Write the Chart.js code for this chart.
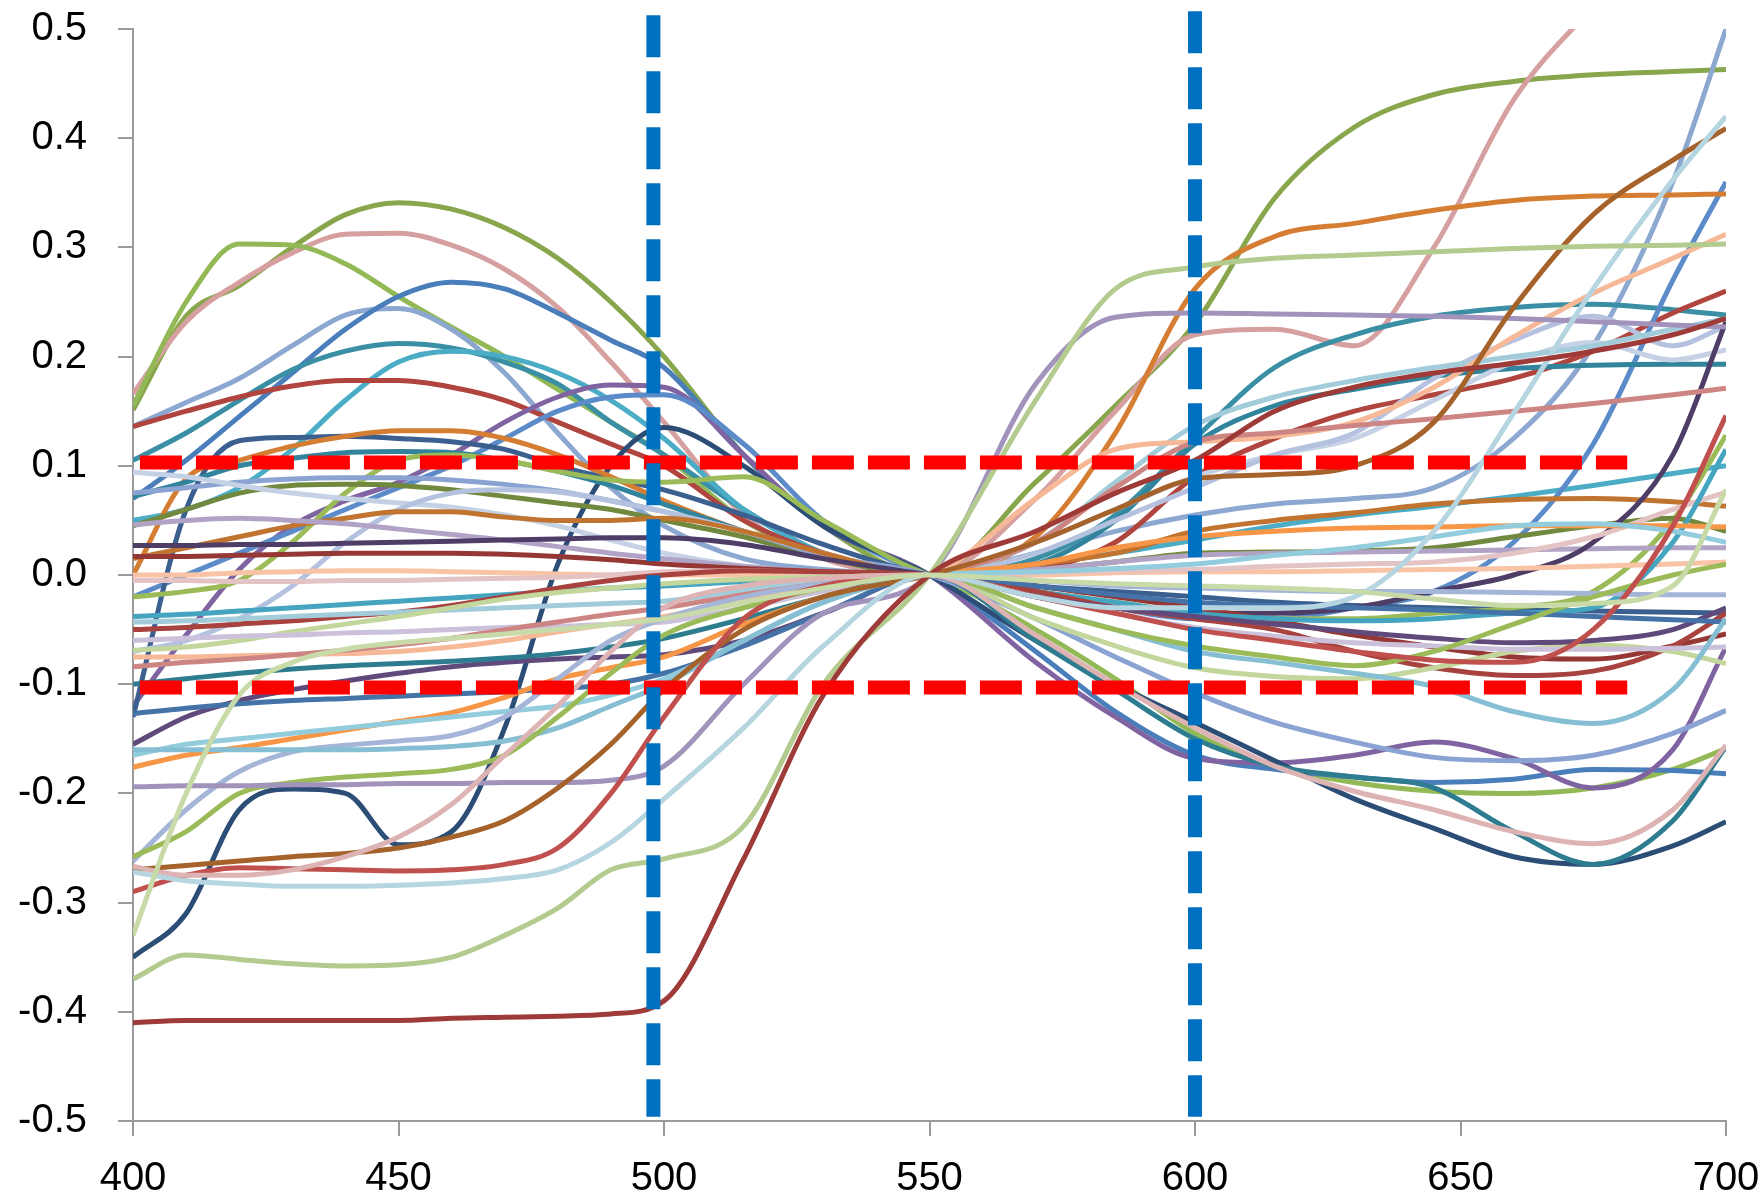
<!DOCTYPE html>
<html>
<head>
<meta charset="UTF-8">
<title>Normalized spectra around 550 nm</title>
<script src="https://cdn.jsdelivr.net/npm/chart.js@4.4.0/dist/chart.umd.min.js"></script>
<style>
  html, body { margin: 0; padding: 0; background: #fff; }
  #wrap { width: 1764px; height: 1198px; }
</style>
</head>
<body>
<div id="wrap"><canvas id="chart"></canvas></div>
<script>
const wavelengths = [400, 410, 420, 430, 440, 450, 460, 470, 480, 490, 500, 515, 530, 550, 570, 585, 600, 615, 630, 645, 660, 675, 690, 700];

const xTicks = [400, 450, 500, 550, 600, 650, 700];
const yTicks = [-0.5, -0.4, -0.3, -0.2, -0.1, 0, 0.1, 0.2, 0.3, 0.4, 0.5];

// marker lines
const cutX = [498, 600];
const cutTop = [0.5126, 0.5162];
const cutBottom = -0.496;
const bandY = [0.103, -0.103];
const bandFrom = 401.3;
const bandTo = 681.4;

// the curves
const s01 = [0.151, 0.237, 0.265, 0.300, 0.330, 0.341, 0.335, 0.318, 0.29, 0.25, 0.2, 0.11, 0.045, 0, 0.085, 0.155, 0.23, 0.345, 0.41, 0.44, 0.452, 0.458, 0.461, 0.463];
const s02 = [0.166, 0.232, 0.268, 0.295, 0.312, 0.313, 0.302, 0.28, 0.245, 0.195, 0.14, 0.055, 0.015, 0, 0.07, 0.15, 0.22, 0.225, 0.21, 0.3, 0.435, 0.52, 0.59, 0.63];
const s03 = [0.155, 0.25, 0.303, 0.302, 0.285, 0.255, 0.227, 0.2, 0.17, 0.14, 0.11, 0.05, 0.018, 0, -0.05, -0.095, -0.145, -0.175, -0.19, -0.198, -0.2, -0.195, -0.178, -0.159];
const s04 = [0.136, 0.158, 0.18, 0.21, 0.238, 0.244, 0.225, 0.185, 0.13, 0.08, 0.045, 0.015, 0.005, 0, 0.02, 0.04, 0.055, 0.065, 0.07, 0.08, 0.125, 0.21, 0.36, 0.5];
const s05 = [0.07, 0.105, 0.145, 0.185, 0.225, 0.255, 0.268, 0.262, 0.24, 0.215, 0.19, 0.11, 0.045, 0, -0.07, -0.125, -0.165, -0.178, -0.185, -0.19, -0.187, -0.178, -0.179, -0.182];
const s06 = [0.105, 0.13, 0.16, 0.188, 0.205, 0.212, 0.208, 0.195, 0.175, 0.14, 0.11, 0.06, 0.02, 0, 0.015, 0.055, 0.125, 0.19, 0.22, 0.237, 0.245, 0.248, 0.243, 0.238];
const s07 = [0.05, 0.06, 0.08, 0.115, 0.16, 0.195, 0.205, 0.2, 0.185, 0.16, 0.125, 0.06, 0.02, 0, 0.01, 0.02, 0.032, 0.045, 0.055, 0.063, 0.072, 0.082, 0.093, 0.1];
const s08 = [0.136, 0.15, 0.163, 0.173, 0.178, 0.178, 0.172, 0.16, 0.14, 0.12, 0.1, 0.05, 0.02, 0, 0.005, 0.03, 0.09, 0.125, 0.15, 0.165, 0.18, 0.205, 0.24, 0.26];
const s09 = [-0.12, -0.055, 0.005, 0.045, 0.068, 0.085, 0.11, 0.14, 0.163, 0.174, 0.172, 0.11, 0.045, 0, -0.08, -0.13, -0.168, -0.172, -0.165, -0.153, -0.168, -0.195, -0.16, -0.066];
const s10 = [-0.02, 0.0, 0.02, 0.04, 0.06, 0.08, 0.1, 0.125, 0.15, 0.163, 0.165, 0.12, 0.05, 0, -0.015, -0.03, -0.04, -0.04, -0.03, -0.015, 0.03, 0.12, 0.27, 0.36];
const s11 = [-0.35, -0.31, -0.215, -0.196, -0.2, -0.247, -0.235, -0.14, 0.01, 0.1, 0.135, 0.1, 0.045, 0, -0.06, -0.1, -0.135, -0.17, -0.205, -0.232, -0.258, -0.265, -0.248, -0.226];
const s12 = [-0.13, 0.06, 0.123, 0.126, 0.127, 0.125, 0.122, 0.115, 0.1, 0.088, 0.078, 0.055, 0.028, 0, -0.01, -0.015, -0.02, -0.025, -0.028, -0.03, -0.032, -0.033, -0.034, -0.035];
const s13 = [0.0, 0.088, 0.105, 0.118, 0.127, 0.132, 0.132, 0.125, 0.11, 0.09, 0.068, 0.04, 0.018, 0, 0.035, 0.13, 0.262, 0.31, 0.322, 0.334, 0.343, 0.347, 0.348, 0.349];
const s14 = [0.072, 0.085, 0.1, 0.107, 0.112, 0.113, 0.112, 0.105, 0.095, 0.082, 0.065, 0.04, 0.018, 0, 0.01, 0.05, 0.12, 0.155, 0.17, 0.182, 0.189, 0.192, 0.193, 0.193];
const s15 = [-0.02, -0.015, -0.005, 0.03, 0.075, 0.105, 0.11, 0.105, 0.095, 0.087, 0.085, 0.09, 0.05, 0, -0.015, -0.025, -0.035, -0.04, -0.04, -0.035, -0.03, -0.015, 0.05, 0.128];
const s16 = [0.045, 0.06, 0.075, 0.082, 0.083, 0.082, 0.078, 0.072, 0.066, 0.06, 0.05, 0.035, 0.016, 0, 0.005, 0.012, 0.02, 0.021, 0.022, 0.025, 0.035, 0.045, 0.052, 0.04];
const s17 = [0.075, 0.08, 0.085, 0.088, 0.089, 0.089, 0.087, 0.083, 0.077, 0.068, 0.058, 0.04, 0.018, 0, -0.04, -0.075, -0.108, -0.135, -0.153, -0.167, -0.17, -0.165, -0.145, -0.124];
const s18 = [0.094, 0.09, 0.082, 0.075, 0.07, 0.066, 0.062, 0.055, 0.045, 0.032, 0.02, 0.008, 0.002, 0, 0.03, 0.06, 0.09, 0.11, 0.125, 0.16, 0.195, 0.213, 0.197, 0.206];
const s19 = [-0.07, -0.06, -0.04, -0.01, 0.03, 0.06, 0.075, 0.078, 0.076, 0.068, 0.058, 0.04, 0.02, 0, 0.02, 0.05, 0.08, 0.11, 0.13, 0.18, 0.215, 0.237, 0.21, 0.228];
const s20 = [0.015, 0.025, 0.035, 0.045, 0.052, 0.058, 0.058, 0.053, 0.05, 0.05, 0.052, 0.04, 0.02, 0, 0.01, 0.02, 0.04, 0.05, 0.057, 0.065, 0.069, 0.07, 0.067, 0.063];
const s21 = [0.046, 0.05, 0.052, 0.05, 0.047, 0.042, 0.037, 0.032, 0.026, 0.02, 0.015, 0.008, 0.003, 0, 0.005, 0.012, 0.018, 0.02, 0.021, 0.022, 0.023, 0.024, 0.025, 0.025];
const s22 = [0.027, 0.027, 0.028, 0.028, 0.029, 0.03, 0.031, 0.032, 0.033, 0.034, 0.034, 0.028, 0.015, 0, -0.015, -0.03, -0.035, -0.035, -0.03, -0.015, 0.0, 0.03, 0.11, 0.232];
const s23 = [0.017, 0.017, 0.018, 0.019, 0.02, 0.02, 0.02, 0.019, 0.017, 0.014, 0.01, 0.006, 0.003, 0, -0.01, -0.02, -0.03, -0.042, -0.055, -0.066, -0.075, -0.077, -0.065, -0.054];
const s24 = [0.0, 0.0, 0.002, 0.003, 0.004, 0.004, 0.003, 0.002, 0.001, 0.0, 0.0, 0.0, 0.0, 0, 0.0, 0.002, 0.003, 0.003, 0.004, 0.005, 0.006, 0.008, 0.01, 0.012];
const s25 = [-0.005, -0.005, -0.006, -0.006, -0.005, -0.005, -0.004, -0.003, -0.002, 0.0, 0.003, 0.004, 0.002, 0, 0.002, 0.004, 0.005, 0.008, 0.01, 0.012, 0.02, 0.035, 0.06, 0.076];
const s26 = [-0.038, -0.036, -0.033, -0.03, -0.027, -0.024, -0.021, -0.018, -0.015, -0.012, -0.01, -0.006, -0.003, 0, -0.015, -0.025, -0.035, -0.04, -0.042, -0.04, -0.035, -0.03, 0.03, 0.115];
const s27 = [-0.05, -0.048, -0.045, -0.042, -0.038, -0.034, -0.028, -0.02, -0.012, -0.005, 0.0, 0.004, 0.003, 0, -0.015, -0.03, -0.04, -0.05, -0.07, -0.085, -0.092, -0.088, -0.065, -0.035];
const s28 = [-0.043, -0.042, -0.04, -0.038, -0.036, -0.034, -0.032, -0.03, -0.028, -0.026, -0.024, -0.014, -0.006, 0, 0.03, 0.085, 0.137, 0.163, 0.178, 0.19, 0.2, 0.21, 0.225, 0.235];
const s29 = [-0.069, -0.066, -0.06, -0.052, -0.045, -0.038, -0.03, -0.022, -0.016, -0.012, -0.008, -0.004, -0.002, 0, -0.04, -0.065, -0.085, -0.093, -0.095, -0.085, -0.07, -0.064, -0.07, -0.081];
const s30 = [-0.075, -0.075, -0.074, -0.073, -0.072, -0.07, -0.066, -0.06, -0.052, -0.045, -0.038, -0.022, -0.01, 0, 0.07, 0.115, 0.122, 0.127, 0.14, 0.172, 0.218, 0.258, 0.29, 0.312];
const s31 = [-0.06, -0.058, -0.056, -0.055, -0.053, -0.052, -0.05, -0.048, -0.047, -0.045, -0.043, -0.03, -0.015, 0, -0.02, -0.035, -0.048, -0.056, -0.062, -0.065, -0.068, -0.068, -0.067, -0.066];
const s32 = [-0.084, -0.08, -0.077, -0.073, -0.069, -0.064, -0.058, -0.05, -0.043, -0.036, -0.03, -0.018, -0.008, 0, 0.03, 0.08, 0.122, 0.13, 0.137, 0.143, 0.15, 0.157, 0.165, 0.171];
const s33 = [-0.155, -0.13, -0.115, -0.105, -0.097, -0.09, -0.084, -0.08, -0.077, -0.075, -0.073, -0.06, -0.035, 0, -0.02, -0.03, -0.038, -0.045, -0.052, -0.058, -0.062, -0.06, -0.05, -0.03];
const s34 = [-0.127, -0.122, -0.118, -0.115, -0.113, -0.111, -0.109, -0.107, -0.104, -0.1, -0.09, -0.065, -0.035, 0, -0.01, -0.018, -0.025, -0.028, -0.03, -0.032, -0.035, -0.038, -0.041, -0.043];
const s35 = [-0.1, -0.095, -0.09, -0.086, -0.083, -0.081, -0.079, -0.076, -0.072, -0.066, -0.058, -0.04, -0.02, 0, -0.06, -0.105, -0.15, -0.175, -0.185, -0.195, -0.235, -0.265, -0.225, -0.157];
const s36 = [-0.176, -0.165, -0.158, -0.15, -0.142, -0.134, -0.126, -0.112, -0.095, -0.085, -0.075, -0.045, -0.02, 0, 0.01, 0.025, 0.035, 0.04, 0.043, 0.044, 0.045, 0.045, 0.045, 0.044];
const s37 = [-0.165, -0.155, -0.15, -0.145, -0.14, -0.135, -0.13, -0.125, -0.12, -0.11, -0.095, -0.06, -0.025, 0, 0.003, 0.006, 0.01, 0.018, 0.025, 0.035, 0.045, 0.047, 0.04, 0.03];
const s38 = [-0.262, -0.215, -0.18, -0.162, -0.156, -0.152, -0.147, -0.13, -0.095, -0.06, -0.04, -0.02, -0.008, 0, -0.005, -0.01, -0.012, -0.014, -0.015, -0.015, -0.016, -0.017, -0.018, -0.018];
const s39 = [-0.16, -0.16, -0.16, -0.16, -0.16, -0.159, -0.157, -0.152, -0.14, -0.12, -0.1, -0.06, -0.025, 0, -0.03, -0.05, -0.07, -0.08, -0.09, -0.102, -0.125, -0.136, -0.105, -0.04];
const s40 = [-0.258, -0.235, -0.2, -0.19, -0.185, -0.182, -0.178, -0.165, -0.13, -0.09, -0.055, -0.03, -0.012, 0, -0.03, -0.05, -0.065, -0.075, -0.083, -0.07, -0.045, -0.02, 0.0, 0.01];
const s41 = [-0.194, -0.193, -0.193, -0.192, -0.192, -0.191, -0.191, -0.19, -0.19, -0.188, -0.175, -0.1, -0.035, 0, 0.175, 0.236, 0.24, 0.239, 0.238, 0.237, 0.235, 0.232, 0.229, 0.227];
const s42 = [-0.27, -0.266, -0.262, -0.258, -0.255, -0.25, -0.24, -0.225, -0.195, -0.155, -0.105, -0.05, -0.02, 0, 0.03, 0.06, 0.088, 0.092, 0.1, 0.14, 0.245, 0.33, 0.38, 0.409];
const s43 = [-0.29, -0.275, -0.268, -0.269, -0.27, -0.271, -0.27, -0.265, -0.25, -0.2, -0.13, -0.04, -0.01, 0, -0.02, -0.035, -0.05, -0.06, -0.07, -0.078, -0.08, -0.05, 0.045, 0.146];
const s44 = [-0.267, -0.275, -0.275, -0.27, -0.258, -0.24, -0.21, -0.165, -0.12, -0.07, -0.03, -0.01, -0.003, 0, -0.055, -0.1, -0.14, -0.175, -0.198, -0.215, -0.235, -0.246, -0.215, -0.156];
const s45 = [-0.272, -0.28, -0.283, -0.285, -0.285, -0.284, -0.282, -0.278, -0.27, -0.245, -0.205, -0.14, -0.065, 0, -0.02, -0.03, -0.03, -0.03, -0.02, 0.04, 0.148, 0.262, 0.362, 0.42];
const s46 = [-0.37, -0.348, -0.352, -0.356, -0.358, -0.357, -0.35, -0.33, -0.305, -0.27, -0.26, -0.23, -0.1, 0, 0.16, 0.262, 0.282, 0.29, 0.293, 0.296, 0.299, 0.301, 0.302, 0.303];
const s47 = [-0.41, -0.408, -0.408, -0.408, -0.408, -0.408, -0.406, -0.405, -0.404, -0.402, -0.39, -0.26, -0.11, 0, 0.04, 0.075, 0.105, 0.15, 0.172, 0.185, 0.194, 0.205, 0.22, 0.235];
const s48 = [-0.33, -0.2, -0.11, -0.08, -0.068, -0.062, -0.058, -0.054, -0.05, -0.045, -0.04, -0.025, -0.012, 0, -0.005, -0.008, -0.01, -0.012, -0.015, -0.022, -0.028, -0.026, -0.01, 0.078];

const curves = [s01, s02, s03, s04, s05, s06, s07, s08, s09, s10, s11, s12, s13, s14, s15, s16,
  s17, s18, s19, s20, s21, s22, s23, s24, s25, s26, s27, s28, s29, s30, s31, s32,
  s33, s34, s35, s36, s37, s38, s39, s40, s41, s42, s43, s44, s45, s46, s47, s48];

const colors = ['#88A64C', '#D7A0A0', '#93B956', '#8DA8D0', '#4A7EBB', '#3A8FA5', '#4BACC6', '#B0443F',
  '#8064A2', '#5B8BC9', '#2C4D75', '#3B5F8E', '#D57D33', '#31849B', '#9BBB59', '#71893F',
  '#8AA3D2', '#C5D1E5', '#B4C2DF', '#C07430', '#B1A3C6', '#4E3D66', '#953735', '#F9C3A5',
  '#E3C3C3', '#45A5C0', '#A8423F', '#A2CCDA', '#C3D69B', '#F6B896', '#CCC1DA', '#CD8583',
  '#604A7B', '#4572A7', '#2E7C8F', '#F79646', '#93CDDD', '#A5B5D8', '#86BFD3', '#9BBB59',
  '#A193BC', '#A5622A', '#C0504D', '#DDB3B3', '#B5D5E0', '#B3CB8F', '#9E3B38', '#C8DAA8'];

const datasets = [];

cutX.forEach((x, i) => {
  datasets.push({
    data: [{x: x, y: cutTop[i]}, {x: x, y: cutBottom}],
    borderColor: '#0070C0', borderWidth: 14, borderDash: [42, 14],
    pointRadius: 0, tension: 0, clip: false, order: 0
  });
});

bandY.forEach(y => {
  datasets.push({
    data: [{x: bandFrom, y: y}, {x: bandTo, y: y}],
    borderColor: '#FF0000', borderWidth: 14, borderDash: [42, 14],
    pointRadius: 0, tension: 0, clip: false, order: 1
  });
});

curves.forEach((s, i) => {
  datasets.push({
    data: wavelengths.map((w, j) => ({x: w, y: s[j]})),
    borderColor: colors[i], borderWidth: 5,
    pointRadius: 0, cubicInterpolationMode: 'monotone',
    order: 2 + curves.length - i
  });
});

const axisGrey = '#9a9a9a';
const tickFont = { family: "'Liberation Sans', Arial, sans-serif", size: 40 };

new Chart(document.getElementById('chart'), {
  type: 'line',
  data: { datasets: datasets },
  options: {
    responsive: true,
    maintainAspectRatio: false,
    animation: false,
    devicePixelRatio: 1,
    layout: { padding: { left: 0, right: 38, top: 29, bottom: 0 } },
    plugins: { legend: { display: false }, tooltip: { enabled: false } },
    scales: {
      x: {
        type: 'linear', min: 400, max: 700,
        afterBuildTicks: axis => { axis.ticks = xTicks.map(v => ({ value: v })); },
        afterFit: axis => { axis.height = 77; axis.paddingLeft = 0; axis.paddingRight = 0; },
        ticks: { font: tickFont, color: '#000', padding: 19, maxRotation: 0, callback: v => String(v) },
        grid: { drawOnChartArea: false, drawTicks: true, tickLength: 15, color: axisGrey, lineWidth: 2 },
        border: { color: axisGrey, width: 2 }
      },
      y: {
        type: 'linear', min: -0.5, max: 0.5,
        afterBuildTicks: axis => { axis.ticks = yTicks.map(v => ({ value: v })); },
        afterFit: axis => { axis.width = 133; axis.paddingTop = 0; axis.paddingBottom = 0; },
        ticks: { font: tickFont, color: '#000', padding: 31, callback: v => v.toFixed(1) },
        grid: { drawOnChartArea: false, drawTicks: true, tickLength: 15, color: axisGrey, lineWidth: 2 },
        border: { color: axisGrey, width: 2 }
      }
    }
  }
});
</script>
</body>
</html>
